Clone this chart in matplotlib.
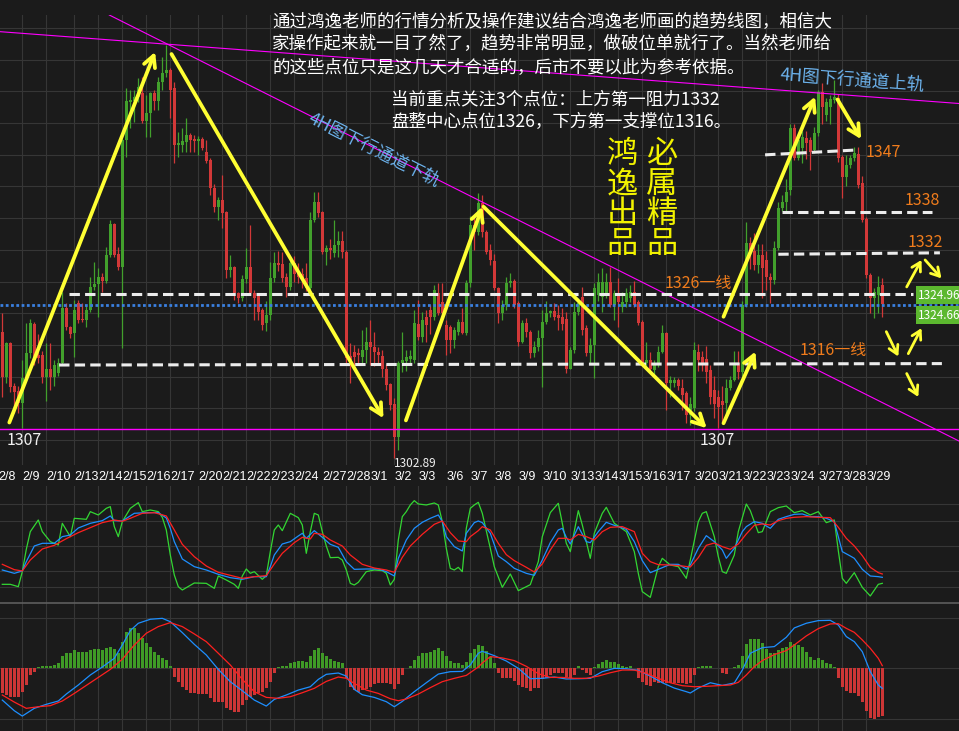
import numpy as np
import matplotlib
matplotlib.use('Agg')
import matplotlib.pyplot as plt
from matplotlib.lines import Line2D

plt.rcParams['font.family'] = ['Noto Sans CJK SC', 'DejaVu Sans']

# ---------------- data (4H bars, 2/8 .. 3/29) ----------------
opens = [1320.6, 1314.3, 1319.1, 1313.0, 1312.3, 1310.6, 1314.2, 1317.7, 1321.8, 1317.4,
         1317.4, 1314.3, 1315.4, 1314.3, 1314.9, 1316.3, 1324.0, 1321.3, 1320.5, 1324.7,
         1322.5, 1322.3, 1323.7, 1327.0, 1327.4, 1328.4, 1327.8, 1331.5, 1335.9, 1331.6,
         1329.8, 1347.7, 1353.0, 1353.2, 1353.7, 1354.3, 1350.4, 1351.5, 1354.3, 1353.2,
         1355.9, 1357.1, 1357.5, 1355.0, 1347.0, 1347.0, 1347.4, 1348.4, 1347.8, 1347.6,
         1347.8, 1346.0, 1344.9, 1340.9, 1338.3, 1339.2, 1337.5, 1329.4, 1329.8, 1326.1,
         1325.4, 1328.1, 1329.8, 1326.1, 1325.9, 1323.7, 1321.9, 1323.0, 1328.2, 1330.4,
         1330.2, 1328.4, 1327.0, 1330.4, 1329.0, 1328.8, 1328.2, 1326.8, 1336.4, 1338.9,
         1337.5, 1331.9, 1332.5, 1331.8, 1332.9, 1333.5, 1331.9, 1317.3, 1317.8, 1317.7,
         1317.1, 1318.1, 1319.2, 1318.5, 1317.8, 1317.2, 1315.5, 1313.3, 1310.5, 1305.9,
         1316.3, 1316.5, 1316.9, 1316.7, 1321.8, 1320.0, 1322.7, 1323.7, 1322.7, 1326.1,
         1324.9, 1321.6, 1321.3, 1319.5, 1320.6, 1322.1, 1320.5, 1327.5, 1335.7, 1334.7,
         1338.8, 1334.7, 1332.2, 1330.6, 1326.8, 1323.3, 1324.5, 1327.5, 1327.9, 1324.7,
         1319.3, 1321.9, 1320.6, 1317.7, 1318.5, 1319.8, 1322.1, 1323.3, 1323.6, 1323.0,
         1322.7, 1322.5, 1315.5, 1318.1, 1323.5, 1325.6, 1321.2, 1317.7, 1318.8, 1325.8,
         1325.6, 1326.2, 1327.7, 1324.5, 1326.0, 1324.2, 1324.9, 1325.4, 1326.3, 1324.9,
         1322.1, 1316.3, 1316.7, 1315.3, 1316.3, 1317.8, 1320.5, 1313.5, 1313.5, 1313.9,
         1312.8, 1312.0, 1309.0, 1310.0, 1317.8, 1317.1, 1316.9, 1315.3, 1312.5, 1311.5,
         1311.0, 1310.6, 1312.7, 1313.9, 1316.3, 1315.0, 1324.5, 1333.2, 1332.0, 1330.1,
         1331.5, 1330.8, 1328.4, 1328.0, 1332.5, 1338.1, 1338.9, 1340.6, 1349.4, 1345.2,
         1346.6, 1348.0, 1347.7, 1346.3, 1348.7, 1354.4, 1351.2, 1352.3, 1353.3, 1353.6,
         1345.3, 1342.5, 1344.2, 1345.2, 1345.7, 1341.6, 1336.6, 1328.7, 1325.4, 1325.9,
         1327.3]
highs = [1323.3, 1319.3, 1319.3, 1313.5, 1313.0, 1316.7, 1321.9, 1322.5, 1322.0, 1320.4,
         1318.0, 1319.1, 1319.1, 1316.7, 1317.0, 1326.3, 1324.7, 1321.5, 1325.2, 1325.2,
         1324.7, 1324.4, 1328.4, 1330.5, 1329.7, 1329.0, 1332.6, 1336.4, 1336.0, 1332.6,
         1347.9, 1355.0, 1354.7, 1354.7, 1356.4, 1356.5, 1354.0, 1354.5, 1354.7, 1356.6,
         1359.4, 1361.1, 1357.8, 1355.9, 1348.8, 1349.4, 1350.8, 1348.7, 1348.4, 1348.2,
         1348.1, 1347.7, 1345.1, 1341.5, 1339.7, 1342.8, 1337.7, 1331.5, 1330.0, 1326.3,
         1328.7, 1332.5, 1335.7, 1326.6, 1326.2, 1324.0, 1325.0, 1330.5, 1331.9, 1332.1,
         1331.9, 1329.0, 1331.4, 1331.4, 1330.4, 1329.6, 1330.4, 1337.5, 1340.4, 1340.4,
         1337.7, 1332.9, 1333.8, 1336.4, 1334.9, 1334.9, 1332.2, 1319.1, 1318.8, 1318.4,
         1320.9, 1321.3, 1322.3, 1320.7, 1318.5, 1318.1, 1316.1, 1313.5, 1311.4, 1316.5,
         1320.7, 1318.1, 1318.1, 1323.7, 1325.2, 1323.5, 1323.7, 1324.4, 1327.3, 1327.5,
         1327.5, 1322.3, 1321.6, 1321.3, 1322.5, 1324.0, 1328.0, 1337.0, 1336.8, 1340.2,
         1339.9, 1335.0, 1333.0, 1331.6, 1327.0, 1325.2, 1328.4, 1329.0, 1328.1, 1325.0,
         1322.3, 1322.6, 1320.9, 1319.4, 1321.0, 1323.7, 1325.0, 1323.8, 1324.7, 1324.5,
         1324.0, 1323.5, 1318.5, 1324.9, 1325.4, 1327.0, 1321.6, 1319.8, 1327.5, 1329.0,
         1329.6, 1329.0, 1329.8, 1326.6, 1328.2, 1326.3, 1326.9, 1327.3, 1327.8, 1325.2,
         1322.3, 1319.2, 1317.9, 1316.7, 1318.7, 1321.6, 1320.7, 1314.5, 1314.3, 1314.2,
         1314.0, 1312.4, 1311.5, 1319.2, 1319.0, 1318.0, 1318.7, 1316.0, 1314.5, 1312.5,
         1313.0, 1314.0, 1314.5, 1318.0, 1318.0, 1325.0, 1336.1, 1334.0, 1334.6, 1333.0,
         1333.0, 1332.0, 1329.0, 1333.4, 1339.0, 1340.0, 1342.2, 1350.0, 1350.0, 1348.6,
         1349.0, 1348.9, 1348.1, 1349.5, 1354.8, 1355.7, 1353.6, 1354.0, 1356.1, 1354.2,
         1345.6, 1345.6, 1345.6, 1346.7, 1346.7, 1342.6, 1336.9, 1329.0, 1326.8, 1328.6,
         1328.2]
lows = [1311.5, 1313.5, 1312.2, 1309.2, 1309.2, 1307.1, 1313.9, 1317.0, 1316.0, 1316.3,
        1313.5, 1311.0, 1312.5, 1313.0, 1314.5, 1316.0, 1320.9, 1319.8, 1317.1, 1321.9,
        1322.0, 1321.3, 1323.4, 1326.6, 1322.8, 1326.3, 1327.6, 1331.2, 1331.2, 1329.4,
        1318.4, 1345.3, 1349.4, 1350.2, 1353.0, 1350.1, 1348.1, 1348.1, 1351.9, 1351.9,
        1354.7, 1356.6, 1350.8, 1344.4, 1345.3, 1346.0, 1346.0, 1346.0, 1346.0, 1345.6,
        1346.3, 1344.4, 1339.9, 1337.5, 1336.4, 1335.3, 1328.2, 1328.4, 1325.2, 1324.7,
        1325.0, 1327.5, 1325.8, 1322.3, 1322.3, 1320.9, 1320.8, 1322.3, 1327.7, 1329.3,
        1327.7, 1325.6, 1326.5, 1327.7, 1327.5, 1326.9, 1326.4, 1326.6, 1336.1, 1336.8,
        1331.6, 1330.1, 1330.9, 1331.2, 1331.2, 1331.1, 1316.3, 1313.5, 1315.8, 1316.0,
        1316.3, 1316.3, 1316.0, 1315.8, 1316.0, 1314.3, 1312.5, 1309.7, 1302.89, 1304.0,
        1315.0, 1315.2, 1316.0, 1316.3, 1319.5, 1319.2, 1319.2, 1320.4, 1322.3, 1323.0,
        1322.8, 1317.4, 1317.7, 1318.4, 1320.2, 1320.4, 1320.2, 1327.0, 1332.2, 1334.3,
        1334.0, 1331.7, 1330.1, 1326.5, 1321.9, 1322.3, 1323.8, 1327.0, 1324.0, 1318.7,
        1319.1, 1320.0, 1317.0, 1317.1, 1318.0, 1312.9, 1321.8, 1322.8, 1322.3, 1321.0,
        1320.9, 1314.9, 1315.5, 1317.7, 1323.0, 1320.2, 1317.2, 1316.3, 1314.2, 1325.0,
        1323.4, 1325.5, 1324.2, 1322.4, 1321.3, 1323.4, 1324.2, 1324.9, 1324.2, 1321.6,
        1316.0, 1315.5, 1314.9, 1314.3, 1315.7, 1317.7, 1309.6, 1311.5, 1312.9, 1312.5,
        1309.6, 1307.8, 1307.5, 1309.5, 1315.2, 1315.2, 1313.5, 1310.5, 1308.5, 1307.1,
        1308.0, 1309.0, 1312.5, 1313.7, 1314.0, 1314.5, 1324.2, 1329.5, 1329.4, 1329.0,
        1325.5, 1326.6, 1324.7, 1327.4, 1332.2, 1337.7, 1337.4, 1340.0, 1344.9, 1344.9,
        1344.5, 1345.0, 1343.5, 1345.8, 1348.3, 1350.0, 1350.3, 1350.0, 1352.9, 1344.6,
        1339.5, 1341.2, 1343.8, 1344.7, 1341.0, 1336.1, 1328.3, 1323.3, 1322.6, 1323.3,
        1322.8]
closes = [1314.3, 1319.1, 1312.9, 1312.2, 1310.6, 1314.2, 1317.7, 1321.9, 1316.7, 1317.0,
          1314.3, 1315.4, 1314.3, 1316.0, 1316.3, 1324.0, 1321.3, 1320.4, 1323.7, 1322.3,
          1322.3, 1323.7, 1327.0, 1327.4, 1328.4, 1327.8, 1331.5, 1335.9, 1331.5, 1329.8,
          1347.7, 1353.2, 1353.3, 1353.7, 1355.2, 1350.4, 1351.5, 1354.3, 1353.2, 1355.9,
          1357.1, 1357.5, 1354.7, 1347.0, 1347.3, 1347.5, 1348.4, 1347.7, 1347.6, 1347.8,
          1346.6, 1344.7, 1340.9, 1338.3, 1339.2, 1337.4, 1329.4, 1329.8, 1326.1, 1325.4,
          1328.1, 1329.8, 1326.1, 1325.5, 1323.4, 1321.6, 1323.0, 1328.2, 1330.4, 1330.1,
          1328.2, 1327.0, 1330.4, 1328.8, 1328.4, 1328.2, 1326.8, 1336.4, 1338.9, 1337.4,
          1331.9, 1332.5, 1332.2, 1332.9, 1333.5, 1331.9, 1317.0, 1316.5, 1317.1, 1317.4,
          1318.1, 1319.2, 1318.5, 1317.8, 1317.4, 1315.5, 1313.2, 1310.4, 1305.9, 1316.3,
          1316.7, 1317.1, 1317.2, 1321.9, 1320.0, 1322.3, 1321.6, 1322.7, 1326.6, 1323.3,
          1323.3, 1319.5, 1319.5, 1320.9, 1322.1, 1320.5, 1327.5, 1335.7, 1334.7, 1338.8,
          1334.7, 1331.9, 1330.8, 1326.8, 1323.3, 1324.5, 1327.5, 1327.9, 1324.5, 1319.3,
          1321.9, 1320.6, 1317.7, 1318.5, 1319.8, 1322.1, 1323.3, 1323.6, 1322.8, 1322.6,
          1321.8, 1315.5, 1318.1, 1323.5, 1324.7, 1320.9, 1317.7, 1318.8, 1326.8, 1327.7,
          1327.7, 1327.7, 1324.5, 1326.1, 1324.9, 1324.9, 1326.1, 1326.3, 1324.5, 1321.9,
          1316.3, 1316.7, 1315.5, 1316.3, 1317.8, 1320.5, 1313.5, 1313.9, 1313.9, 1313.0,
          1311.8, 1309.0, 1310.5, 1318.1, 1316.7, 1316.3, 1315.0, 1311.5, 1310.5, 1310.1,
          1310.3, 1312.7, 1313.9, 1316.3, 1315.0, 1324.5, 1333.2, 1331.8, 1330.1, 1331.5,
          1329.7, 1328.4, 1328.0, 1332.5, 1338.1, 1338.9, 1340.3, 1349.4, 1345.2, 1347.7,
          1348.1, 1347.3, 1346.0, 1348.7, 1354.4, 1352.3, 1353.0, 1353.5, 1353.7, 1345.2,
          1342.5, 1344.2, 1345.2, 1345.8, 1341.4, 1336.4, 1328.7, 1325.4, 1326.3, 1327.0,
          1324.66]

day_labels = ['2/8', '2/9', '2/10', '2/13', '2/14', '2/15', '2/16', '2/17', '2/20', '2/21',
              '2/22', '2/23', '2/24', '2/27', '2/28', '3/1', '3/2', '3/3', '3/6', '3/7',
              '3/8', '3/9', '3/10', '3/13', '3/14', '3/15', '3/16', '3/17', '3/20', '3/21',
              '3/22', '3/23', '3/24', '3/27', '3/28', '3/29']
day_start = [-1, 5, 11, 18, 24, 30, 36, 42, 49, 55, 61, 67, 73, 80, 86, 92, 98, 104, 111, 117,
             123, 129, 135, 142, 148, 154, 160, 166, 173, 179, 185, 191, 197, 204, 210, 216]

# KDJ (bar position, value)
k_x = [0, 3, 5, 6, 8, 10, 13, 15, 17, 19, 22, 25, 27, 28, 30, 33, 36, 39, 41, 42, 43, 45, 48, 51,
       54, 57, 60, 63, 66, 67, 68, 70, 72, 74, 75, 76, 78, 80, 82, 84, 86, 88, 91, 94, 96, 98, 99,
       101, 103, 105, 107, 109, 110, 111, 113, 115, 116, 118, 119,
       120, 122, 124, 126, 128, 131, 133, 135, 137, 139, 140, 141, 142, 144, 146, 147, 149, 151,
       153, 156, 158, 160, 162, 164, 167, 169, 171, 172, 174, 176, 178, 180, 181, 183, 185, 186,
       188, 190, 191, 192, 194, 196, 198, 200, 202, 204, 206, 208, 209, 210, 212, 213, 215, 217,
       219, 220]
k_val = [20.8, 16.8, 19.6, 30.8, 49.6, 52.8, 52.8, 60.8, 62.8, 71.2, 76.8, 80, 85.6, 80, 79.6,
         88.8, 89.6, 89.6, 83.2, 70.8, 54.8, 34, 24.8, 20.8, 15.6, 11.6, 9.6, 12.8, 12.8, 24.8,
         38.8, 52, 54.8, 61.6, 64.8, 58.8, 68, 60, 51.6, 48, 30.8, 21.6, 22, 22, 18.8, 13.6,
         34.8, 56.8, 70.8, 78, 82.8, 86.8, 78.8, 60.8, 48.8, 43.6, 64.8, 77.6, 79.6,
         77.6, 64.8, 37.6, 30.8, 22.8, 16.8, 14.4, 32.8, 53.6, 68.8, 70.8, 60, 52, 72.8, 54.8,
         53.6, 66.8, 78, 74.4, 69.6, 54.8, 32, 17.6, 21.6, 27.6, 27.6, 22, 26.8, 46.8, 62, 54.8,
         44.8, 34.8, 46.8, 66.8, 72.8, 78.8, 76.8, 73.6, 70.8, 81.6, 84.8, 87.6, 88, 84.8, 84.8,
         82.8, 78.8, 60.8, 42.8, 37.6, 34.8, 21.6, 13.6, 12.8, 12]
d_x = [0, 3, 5, 7, 10, 13, 16, 19, 22, 25, 28, 30, 32, 35, 38, 41, 43, 45, 48, 51, 54, 57, 60,
       63, 66, 68, 70, 73, 75, 77, 78, 80, 82, 85, 87, 90, 93, 96, 98, 100, 102, 105, 108, 110,
       112, 114, 116, 117, 119,
       120, 122, 124, 126, 128, 131, 133, 135, 137, 139, 141, 142, 144, 146, 148, 150, 152, 155,
       158, 160, 162, 164, 167, 170, 172, 174, 176, 178, 180, 182, 184, 186, 188, 190, 192, 194,
       196, 198, 201, 204, 207, 209, 211, 213, 215, 217, 219, 220]
d_val = [27.6, 21.2, 19.6, 32.8, 46, 50.4, 58.4, 65.6, 71.6, 77.6, 80.8, 79.2, 82.8, 88.8, 89.6,
         85.6, 68.8, 51.6, 36.8, 25.6, 18, 14.4, 10.8, 12.8, 14, 28, 40.8, 53.6, 60, 58, 64.8,
         63.6, 56.8, 49.6, 38.8, 27.6, 23.2, 20.8, 18, 36, 49.6, 63.6, 75.6, 79.6, 65.6, 55.6,
         54.8, 60.8, 68,
         72.8, 68.8, 52.8, 39.2, 32, 24, 18.4, 28, 44.8, 58.8, 58.8, 56.8, 63.6, 60.8, 56.8,
         66.8, 72, 72.8, 66.8, 40.8, 30.8, 27.2, 26.8, 25.6, 24.4, 35.6, 50.4, 53.2, 48.8, 45.6,
         52, 64, 74.4, 76, 74.8, 80, 82.8, 84, 84.8, 84, 83.6, 72, 58.8, 49.6, 38, 24, 17.6, 16]
j_x = [0, 2, 4, 5, 6, 7, 9, 10, 12, 14, 15, 17, 18, 21, 22, 24, 26, 27, 28, 29, 30, 32, 34, 35,
       37, 39, 40, 41, 42, 43, 44, 45, 48, 51, 53, 54, 56, 58, 59, 60, 61, 62, 63, 65, 66, 67,
       68, 69, 70, 72, 74, 75, 76, 77, 78, 79, 80, 81, 82, 84, 85, 86, 87, 88, 89, 91, 93, 95,
       96, 97, 98, 99, 100, 101, 102, 103, 104, 106, 108, 109, 110, 111, 112, 113, 114, 115,
       116, 117, 118, 119,
       120, 122, 123, 125, 127, 129, 132, 134, 135, 137, 139, 141, 142, 144, 145, 147, 148, 150,
       151, 153, 156, 158, 159, 160, 162, 164, 165, 167, 169, 171, 172, 174, 175, 176, 178, 179,
       180, 181, 183, 184, 186, 187, 189, 190, 192, 194, 196, 198, 200, 202, 204, 206, 208, 209,
       210, 211, 213, 215, 217, 219, 220]
j_val = [3.6, 3.6, 0.8, 18.8, 45.6, 66.8, 80.8, 66.8, 54.8, 50.8, 76.8, 60.8, 82.8, 81.6, 90.8,
         86.8, 94.8, 96.8, 72.8, 60.8, 78.8, 94.8, 101.6, 90.8, 92.8, 90.8, 84, 68.8, 38.8, 14.8,
         0.8, -3.2, 5.2, 4.8, -1.2, 13.6, 8.8, 3.6, -1.2, 13.6, 22, 16.8, 18.8, 9.6, 14, 42.8,
         68.8, 74.8, 68, 88.8, 83.6, 74.8, 40.8, 66.8, 88.8, 86.8, 66.8, 49.6, 35.6, 36, 32.8,
         20.8, 4.8, 2.8, 6, 18.8, 20.8, 20, 16.8, 2.8, 9.6, 56.8, 84.8, 90.8, 98.8, 104, 100,
         98.8, 101.2, 98.8, 78.8, 46.8, 22.8, 20.8, 24, 18.8, 70.8, 94.8, 98.8, 102,
         88.8, 46.8, 24.8, 0, 16, -4, 3.2, 30.8, 60.8, 89.6, 100.8, 52.8, 42.8, 92, 74.8, 34.8,
         64.8, 88.8, 96, 76.8, 66.8, 42.8, 16.8, -5.2, -12, 24.8, 34.8, 26.8, 24.8, 10.8, 32.8,
         78.8, 88.8, 90.8, 60.8, 36.8, 18.8, 16.8, 38.8, 66.8, 100, 92, 65.6, 66.8, 90.8, 95.6,
         97.6, 89.6, 92, 86.8, 90.8, 77.6, 80.8, 44, 10.8, 4.8, 17.6, 0, -10.4, 3.6, 4.8]

# MACD (bar position, value) and histogram per bar
dif_x = [0, 3, 5, 8, 11, 14, 16, 19, 22, 25, 28, 30, 32, 34, 37, 40, 42, 45, 48, 51, 54, 57, 60,
         63, 66, 68, 71, 74, 77, 79, 81, 84, 86, 88, 90, 93, 96, 98, 100, 103, 106, 109, 112, 115,
         117, 119,
         120, 123, 126, 129, 132, 135, 138, 141, 144, 147, 150, 153, 156, 159, 162, 165, 168, 171,
         172, 174, 177, 180, 183, 185, 187, 190, 193, 196, 198, 201, 204, 207, 209, 211, 213, 215,
         217, 219, 220]
dif_val = [-2.38, -3.18, -3.58, -3.0, -2.7, -2.45, -1.93, -1.25, -0.5, 0.1, 0.75, 1.75, 2.83,
           3.38, 3.68, 3.75, 3.5, 2.68, 1.8, 1.0, -0.08, -1.0, -1.68, -2.38, -2.83, -2.33, -2.0,
           -1.63, -1.38, -0.83, -0.45, -0.35, -0.58, -1.58, -1.98, -2.18, -2.5, -2.88, -2.48,
           -1.75, -1.08, -0.43, -0.25, -0.23, 0.25, 1.13,
           1.28, 0.95, 0.55, 0, -0.78, -0.75, -0.65, -0.8, -0.78, -0.75, -0.25, 0, -0.03, -0.15,
           -0.58, -1.08, -1.48, -1.75, -1.85, -1.48, -1.08, -1.28, -1.1, -0.13, 1.13, 1.55, 1.63,
           2.33, 3.03, 3.38, 3.58, 3.6, 3.25, 2.38, 2.0, 1.25, -0.25, -1.25, -1.5]
dea_x = [0, 3, 6, 9, 12, 15, 18, 21, 24, 27, 30, 33, 36, 39, 42, 45, 48, 51, 54, 57, 60, 63, 66,
         69, 72, 75, 78, 81, 84, 86, 88, 91, 94, 97, 99, 101, 104, 107, 110, 113, 116, 119,
         120, 122, 125, 128, 131, 134, 137, 140, 143, 146, 149, 152, 155, 158, 161, 164, 167, 170,
         173, 176, 179, 182, 184, 186, 188, 190, 193, 196, 198, 201, 204, 207, 209, 211, 213, 215,
         217, 219, 220]
dea_val = [-2.0, -2.53, -3.0, -2.88, -2.8, -2.45, -1.88, -1.28, -0.68, -0.08, 0.68, 1.75, 2.63,
           3.13, 3.43, 3.13, 2.58, 2.0, 1.13, 0.25, -0.83, -1.75, -2.18, -2.25, -2.13, -1.83,
           -1.5, -0.98, -0.65, -0.75, -1.13, -1.63, -1.88, -2.28, -2.43, -2.3, -1.93, -1.45,
           -1.0, -0.75, -0.53, 0.1,
           0.4, 0.88, 0.78, 0.58, 0.15, -0.4, -0.68, -0.68, -0.75, -0.75, -0.58, -0.33, -0.13,
           -0.13, -0.38, -0.75, -1.08, -1.3, -1.38, -1.35, -1.3, -1.25, -1.05, -0.5, 0.13, 0.58,
           1.03, 1.33, 1.75, 2.43, 2.98, 3.33, 3.35, 3.0, 2.7, 2.13, 1.5, 0.75, 0.2]
macd_hist = [-1.88, -2.0, -2.13, -2.13, -2.13, -1.75, -1.25, -0.5, -0.25,
             0.08, 0.15, 0.15, 0.2, 0.25, 0.38, 0.95, 1.13, 1.13, 1.38, 1.25, 1.2, 1.2, 1.38,
             1.45, 1.45, 1.38, 1.5, 1.63, 1.45, 1.13, 2.0, 2.7, 3.0, 3.0, 2.68, 2.25, 1.88, 1.63,
             1.25, 1.0, 0.75, 0.63, 0.18,
             -0.63, -1.0, -1.38, -1.63, -1.83, -1.88, -1.93, -1.93, -1.93, -2.25, -2.5, -2.5,
             -2.5, -3.0, -3.13, -3.25, -3.25, -2.75, -2.38, -2.13, -2.0, -1.88, -1.75, -1.5,
             -1.05, -0.38,
             0.13, 0.2, 0.2, 0.38, 0.5, 0.58, 0.58, 0.5, 0.95, 1.38, 1.55, 1.18, 0.95, 0.68, 0.58,
             0.5, 0.43,
             -0.75, -1.38, -1.63, -1.75, -1.63, -1.58, -1.38, -1.2, -1.13, -1.08, -1.13, -1.18,
             -1.53, -1.2, -0.5,
             0.03, 0.2, 0.63, 0.95, 1.13, 1.13, 1.2, 1.38, 1.5, 1.3, 0.95, 0.55, 0.43, 0.38, 0.25,
             0.5, 1.13, 1.45, 1.75,
             1.68, 1.3, 0.88, 0.38,
             -0.38, -0.7, -0.75, -0.75, -0.93, -1.25, -1.38, -1.45, -1.7, -1.5, -1.45, -0.83,
             -0.75, -0.5, -0.38, -0.38, -0.33, -0.63, -0.75, -0.5,
             0.15, -0.13, -0.38, -0.5,
             0.1, 0.33, 0.5, 0.63, 0.5, 0.5, 0.33, 0.18, 0.13, 0.18, 0.05,
             -0.75, -1.0, -1.25, -1.33, -1.0, -1.08, -1.13, -1.08, -1.13, -1.08, -1.13, -1.13,
             -1.2, -1.13, -0.5,
             0.1, 0.18, 0.18, 0.18, 0.05, 0.03, -0.38, -0.45,
             0.03, 0.13, 0.25, 0.95, 1.83, 2.2, 2.2, 2.2, 1.88, 1.43, 1.18, 1.18, 1.38, 1.5, 1.63,
             2.0, 1.83, 1.75, 1.58, 1.25, 0.88, 0.63, 0.75, 0.63, 0.43, 0.33, 0.13,
             -0.7, -1.38, -1.7, -1.83, -1.83, -2.05, -2.5, -3.18, -3.7, -3.8, -3.63, -3.58]

# key levels / trend lines / arrows (bar, price)
support_line = 1307
bid_line = 1324.5
channel_top = [(40.9, 1361.2), (204.4, 1354.3)]
channel_bottom = [(40.9, 1361.3), (120.2, 1338.9)]
dashed_levels = [((16.7, 1326.0), (227.7, 1326.0)),
                 ((14.2, 1316.0), (234.9, 1316.2)),
                 ((194.9, 1337.6), (232.4, 1337.6)),
                 ((190.7, 1345.6), (214.0, 1346.3)),
                 ((194.0, 1331.6), (234.4, 1331.8))]
big_arrows = [((1.75, 1307.9), (38.2, 1360.1)),
              ((42.3, 1359.8), (95.3, 1308.5)),
              ((100.9, 1308.2), (120.0, 1338.3)),
              ((120.3, 1338.3), (176.1, 1307.1)),
              ((180.3, 1307.8), (188.3, 1317.9)),
              ((180.3, 1322.8), (203.2, 1353.8)),
              ((208.8, 1353.4), (214.7, 1347.8))]
small_arrows = [((226.1, 1327.0), (229.8, 1330.8)),
                ((230.7, 1330.8), (234.8, 1328.2)),
                ((221.0, 1320.7), (224.0, 1317.2)),
                ((226.5, 1317.6), (229.8, 1321.2)),
                ((226.1, 1314.8), (229.0, 1311.5))]

# ---------------- styling ----------------
BG = '#1b1b1b'
GRID = '#363636'
UP = '#42a02c'
DOWN = '#d23838'
YEL = '#ffff33'
ORANGE = '#f07c1c'
MAG = '#ff00ff'

fig = plt.figure(figsize=(9.59, 7.31), dpi=100, facecolor=BG)
ax = fig.add_axes([0, 0.3639, 1, 0.6156])
kd = fig.add_axes([0, 0.1751, 1, 0.1601])
md = fig.add_axes([0, 0, 1, 0.1751])

for a in (ax, kd, md):
    a.set_facecolor(BG)
    a.set_xlim(-0.575, 239.175)
    a.set_xticks([])
    a.set_yticks([])
    for s in a.spines.values():
        s.set_visible(False)
    for b in day_start:
        a.axvline(b, color=GRID, lw=0.8, zorder=0)

ax.set_ylim(1301.92, 1365.30)
kd.set_ylim(-18.8, 121.6)
md.set_ylim(-4.7, 4.9)

for p in np.arange(1363.47, 1300, -4.465):
    ax.axhline(p, color=GRID, lw=0.8, zorder=0)
for v in (0, 20, 50, 80, 100):
    kd.axhline(v, color=GRID, lw=0.8, zorder=0)
for v in (-3.8, 0, 3.75):
    md.axhline(v, color=GRID, lw=0.8, zorder=0)
fig.add_artist(Line2D([0, 1], [0.1751, 0.1751], transform=fig.transFigure,
                      color='#5e5e5e', lw=1.2))

# ---------------- candles ----------------
o = np.array(opens)
h = np.array(highs)
l = np.array(lows)
c = np.array(closes)
x = np.arange(len(c))
cols = np.where(c >= o, UP, DOWN)
ax.vlines(x, l, h, colors=cols, lw=0.9, zorder=2)
ax.bar(x, np.maximum(np.abs(c - o), 0.15), bottom=np.minimum(o, c), width=0.78,
       color=cols, linewidth=0, zorder=3)

# lines and levels
ax.axhline(support_line, color=MAG, lw=1.0, zorder=4)
ax.axline(channel_top[0], channel_top[1], color=MAG, lw=0.8, zorder=4)
ax.axline(channel_bottom[0], channel_bottom[1], color=MAG, lw=0.8, zorder=4)
ax.axhline(bid_line, color='#3a80e0', lw=2.0, dashes=(1.0, 0.9), zorder=4)
for (x0, y0), (x1, y1) in dashed_levels:
    ax.plot([x0, x1], [y0, y1], color='#ececec', lw=2.2, dashes=(3.4, 1.7), zorder=5)

for (x0, y0), (x1, y1) in big_arrows:
    ax.annotate('', xy=(x1, y1), xytext=(x0, y0), zorder=6,
                arrowprops=dict(arrowstyle='->,head_length=0.8,head_width=0.42', color=YEL,
                                lw=2.7, shrinkA=0, shrinkB=0))
for (x0, y0), (x1, y1) in small_arrows:
    ax.annotate('', xy=(x1, y1), xytext=(x0, y0), zorder=6,
                arrowprops=dict(arrowstyle='->,head_length=0.6,head_width=0.35', color=YEL,
                                lw=2.0, shrinkA=0, shrinkB=0))

# price labels
for xt, yt, s in [(215.9, 1346.0, '1347'), (225.7, 1339.2, '1338'), (226.4, 1333.3, '1332'),
                  (165.7, 1327.5, '1326一线'), (199.4, 1318.0, '1316一线')]:
    ax.text(xt, yt, s, color=ORANGE, fontsize=11.5, ha='left', va='center', zorder=7)
for xt, yt, s, fs in [(1.2, 1305.3, '1307', 11.5), (174.4, 1305.3, '1307', 11.5),
                      (97.9, 1302.2, '1302.89', 8.5)]:
    ax.text(xt, yt, s, color='#f0f0f0', fontsize=fs, ha='left', va='center', zorder=7,
            clip_on=False)
for yt, s in [(1325.86, '1324.96'), (1323.0, '1324.66')]:
    ax.text(229.0, yt, s, color='white', fontsize=8.5, ha='left', va='center', zorder=8,
            bbox=dict(boxstyle='square,pad=0.2', fc='#5cb82f', ec='none'))

# date labels
for b, lab in zip(day_start, day_labels):
    ax.text(b, -0.027, lab, transform=ax.get_xaxis_transform(), color='white', fontsize=9,
            family=['Liberation Sans', 'DejaVu Sans'], ha='left', va='center', clip_on=False)

# ---------------- KDJ ----------------
kd.plot(j_x, j_val, color='#33d633', lw=0.9)
kd.plot(k_x, k_val, color='#1e8fff', lw=0.9)
kd.plot(d_x, d_val, color='#ff2020', lw=0.9)

# ---------------- MACD ----------------
hist = np.array(macd_hist)
xh = np.arange(len(hist))
md.bar(xh, hist, width=0.75, color=np.where(hist >= 0, '#3f9a26', '#cc3636'), linewidth=0,
       zorder=2)
md.plot(dif_x, dif_val, color='#1e8fff', lw=0.9, zorder=3)
md.plot(dea_x, dea_val, color='#ff2020', lw=0.9, zorder=3)

# ---------------- annotation text ----------------
W, H = 959.0, 731.0
top_lines = ['通过鸿逸老师的行情分析及操作建议结合鸿逸老师画的趋势线图，相信大',
             '家操作起来就一目了然了，趋势非常明显，做破位单就行了。当然老师给',
             '的这些点位只是这几天才合适的，后市不要以此为参考依据。']
for i, s in enumerate(top_lines):
    fig.text(272 / W, 1 - (22 + 22.5 * i) / H, s, color='white', fontsize=12.6,
             ha='left', va='center')
for i, s in enumerate(['当前重点关注3个点位：上方第一阻力1332',
                       '盘整中心点位1326，下方第一支撑位1316。']):
    fig.text(391 / W, 1 - (99.5 + 23 * i) / H, s, color='white', fontsize=12.6,
             ha='left', va='center')

fig.text(374 / W, 1 - 150 / H, '4H图下行通道下轨', color='#6cb2ec', fontsize=12.6,
         rotation=-26.7, ha='center', va='center', rotation_mode='anchor')
fig.text(852 / W, 1 - 80 / H, '4H图下行通道上轨', color='#6cb2ec', fontsize=12.6,
         rotation=-4.3, ha='center', va='center', rotation_mode='anchor')

for col_x, word in [(622, '鸿逸出品'), (662, '必属精品')]:
    for i, ch in enumerate(word):
        fig.text(col_x / W, 1 - (154 + 30 * i) / H, ch, color='#f2f200', fontsize=22.5,
                 ha='center', va='center')

fig.savefig('out.png', dpi=100, facecolor=BG)
